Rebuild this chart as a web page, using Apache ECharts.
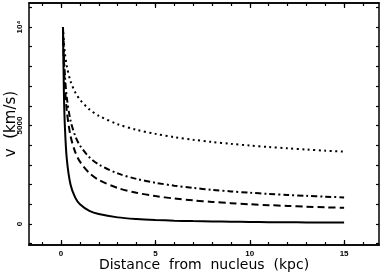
<!DOCTYPE html>
<html><head><meta charset="utf-8">
<script src="https://cdn.jsdelivr.net/npm/echarts@6/dist/echarts.min.js"></script>
<style>html,body{margin:0;padding:0;background:#fff}#c{width:382px;height:275px}</style>
</head><body><div id="c"></div>
<script>
const radius = [0.1,0.15,0.2,0.3,0.5,0.75,1,1.5,2,3,4,5,6,7,8,9,10,11,12,13,14,15];
const solidV   = [10000,6667,5000,3333,2000,1333,1000,667,500,333,250,200,167,143,125,111,100,91,83,77,71,67];
const dashedV  = [10000,8165,7071,5774,4472,3651,3162,2582,2236,1826,1581,1414,1291,1195,1118,1054,1000,953,913,877,845,816];
const dashDotV = [10000,8503,7579,6444,5253,4467,3981,3385,3017,2565,2286,2091,1944,1828,1733,1653,1585,1526,1473,1427,1385,1348];
const dottedV  = [10000,9221,8706,8028,7248,6684,6310,5818,5493,5065,4782,4573,4410,4275,4163,4066,3981,3906,3839,3778,3722,3671];
const xMinorTicks = [-1,0,1,2,3,4,5,6,7,8,9,10,11,12,13,14,15,16];
const xMajorTicks = [0,5,10,15];
const xTickLabels = [0,5,10,15];
const yTicks = [-1000,0,1000,2000,3000,4000,5000,6000,7000,8000,9000,10000,11000];
const yTickLabels = [0,5000,10000];

const X_MIN=-1.7, X_MAX=16.85, Y_MIN=-1070, Y_MAX=11220;
const font = 'Liberation Sans';
const titleFont = 'DejaVu Sans';
function xAxis(pos, ticks, len, labels, extra){
  return Object.assign({type:'value',position:pos,min:X_MIN,max:X_MAX,nameMoveOverlap:false,
    axisLine:{show:true,onZero:false,lineStyle:{color:'#000',width:1.5}},
    axisTick:{show:true,inside:true,length:len,customValues:ticks,lineStyle:{color:'#000',width:1.2}},
    axisLabel:{show:!!labels,customValues:labels||[],color:'#000',fontSize:8,fontWeight:'bold',fontFamily:font,margin:5},
    splitLine:{show:false}},extra||{});
}
function yAxis(pos, labels, extra){
  return Object.assign({type:'value',position:pos,min:Y_MIN,max:Y_MAX,nameMoveOverlap:false,
    axisLine:{show:true,onZero:false,lineStyle:{color:'#000',width:1.5}},
    axisTick:{show:true,inside:true,length:3,customValues:yTicks,lineStyle:{color:'#000',width:1.2}},
    axisLabel:{show:!!labels,customValues:labels||[],rotate:90,color:'#000',fontSize:8,fontWeight:'bold',fontFamily:font,margin:5,
      formatter:v=>v===10000?'10⁴':String(v)},
    splitLine:{show:false}},extra||{});
}
const chart = echarts.init(document.getElementById('c'),null,{renderer:'canvas'});
function mk(vals){return radius.map((r,i)=>[r,vals[i]]);}
function line(vals, type, width){
  return {type:'line',data:mk(vals),smooth:0.3,showSymbol:false,symbol:'none',animation:false,
    lineStyle:{color:'#000',width:width,type:type,cap:'butt'}};
}
chart.setOption({
  animation:false,
  grid:{left:29,right:3,top:3,bottom:30,containLabel:false,outerBoundsMode:'none'},
  xAxis:[
    xAxis('bottom',xMinorTicks,3,xTickLabels,{name:'Distance  from  nucleus  (kpc)',nameLocation:'middle',nameGap:13,
      nameTextStyle:{color:'#000',fontSize:14,fontFamily:titleFont}}),
    xAxis('bottom',xMajorTicks,5,null),
    xAxis('top',xMinorTicks,3,null),
    xAxis('top',xMajorTicks,5,null)
  ],
  yAxis:[
    yAxis('left',yTickLabels,{name:'v  (km/s)',nameLocation:'middle',nameGap:10,nameRotate:90,
      nameTextStyle:{color:'#000',fontSize:15,fontFamily:titleFont}}),
    yAxis('right',null)
  ],
  series:[
    line(solidV,'solid',2),
    line(dashedV,[7,4],2),
    line(dashDotV,[6,3,2,3],2),
    line(dottedV,[2,3.5],2)
  ]
});
</script></body></html>
